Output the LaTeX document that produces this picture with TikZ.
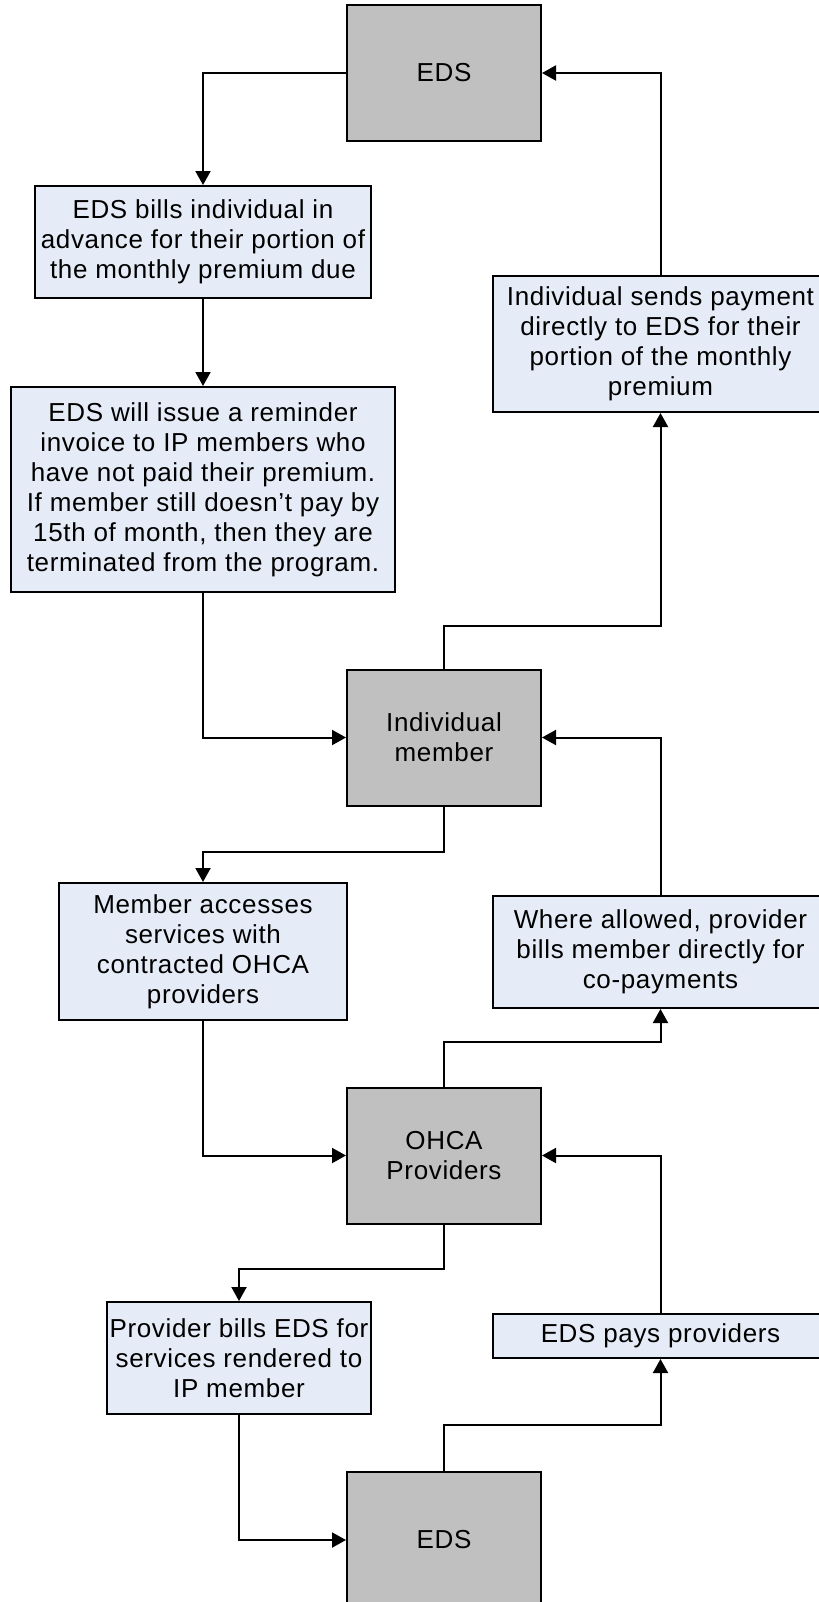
\documentclass[tikz,border=0pt]{standalone}
\usepackage{fontspec}
\setmainfont[LetterSpace=2.5]{Liberation Sans}
\usetikzlibrary{arrows.meta,positioning}
\definecolor{hubgray}{HTML}{C0C0C0}
\definecolor{stepblue}{HTML}{E6ECF7}
\tikzset{
  hub/.style={draw,line width=1pt,fill=hubgray,minimum width=97pt,minimum height=68pt,align=center,inner sep=0pt},
  stepbox/.style={draw,line width=1pt,fill=stepblue,align=center,inner sep=0pt},
  conn/.style={-{Triangle[length=7pt,width=7.5pt]},line width=1pt},
  every node/.style={font=\fontsize{13}{15}\selectfont}
}
\begin{document}
\begin{tikzpicture}[x=0.5pt,y=-0.5pt]
\useasboundingbox (0,0) rectangle (819,1602);
% hubs
\node[hub] (edsTop) at (444,73) {EDS};
\node[hub] (member) at (444,737.5) {Individual\\member};
\node[hub] (ohca) at (444,1155.5) {OHCA\\Providers};
\node[hub] (edsBot) at (444,1540) {EDS};
% left column
\node[stepbox,minimum width=168pt,minimum height=56pt] (bill) at (203,242)
  {EDS bills individual in\\advance for their portion of\\the monthly premium due};
\node[stepbox,minimum width=192pt,minimum height=102.5pt] (remind) at (203,489.5)
  {EDS will issue a reminder\\invoice to IP members who\\have not paid their premium.\\If member still doesn’t pay by\\15th of month, then they are\\terminated from the program.};
\node[stepbox,minimum width=144pt,minimum height=68.5pt] (access) at (203,951.5)
  {Member accesses\\services with\\contracted OHCA\\providers};
\node[stepbox,minimum width=132pt,minimum height=56pt] (provbill) at (239,1358)
  {Provider bills EDS for\\services rendered to\\IP member};
% right column
\node[stepbox,minimum width=167.5pt,minimum height=68pt] (sendpay) at (660.5,344)
  {Individual sends payment\\directly to EDS for their\\portion of the monthly\\premium};
\node[stepbox,minimum width=167.5pt,minimum height=56pt] (allowed) at (660.5,952)
  {Where allowed, provider\\bills member directly for\\co-payments};
\node[stepbox,minimum width=167.5pt,minimum height=22pt] (pays) at (660.5,1336)
  {EDS pays providers};
% connectors
\draw[conn] (edsTop.west) -| (bill.north);
\draw[conn] (bill.south) -- (remind.north);
\draw[conn] (remind.south) |- (member.west);
\draw[conn] (member.north) -- ++(0,-43) -| (sendpay.south);
\draw[conn] (sendpay.north) |- (edsTop.east);
\draw[conn] (member.south) -- ++(0,45) -| (access.north);
\draw[conn] (allowed.north) |- (member.east);
\draw[conn] (access.south) |- (ohca.west);
\draw[conn] (ohca.north) -- ++(0,-45) -| (allowed.south);
\draw[conn] (ohca.south) -- ++(0,44) -| (provbill.north);
\draw[conn] (pays.north) |- (ohca.east);
\draw[conn] (provbill.south) |- (edsBot.west);
\draw[conn] (edsBot.north) -- ++(0,-46) -| (pays.south);
\end{tikzpicture}
\end{document}
